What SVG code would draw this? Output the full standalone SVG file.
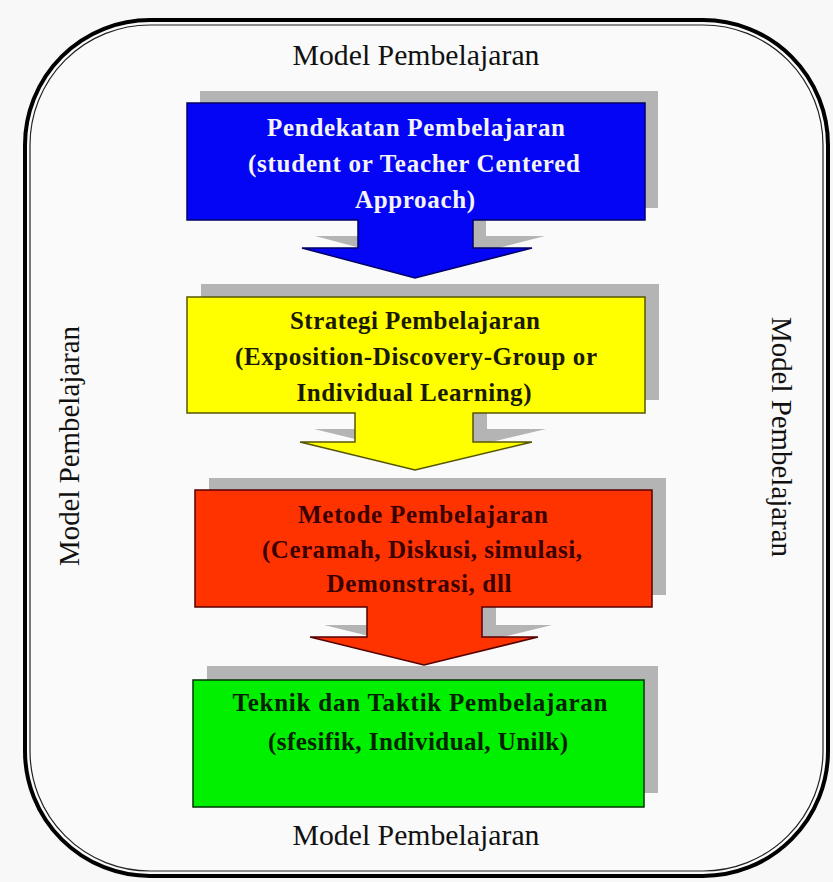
<svg xmlns="http://www.w3.org/2000/svg" width="833" height="882" viewBox="0 0 833 882">
<style>
.frame-label{font-family:"Liberation Serif",serif;font-size:29px;fill:#111;text-anchor:middle}
.bt{font-family:"Liberation Serif",serif;font-weight:bold;font-size:25px;text-anchor:middle}
.shadow{fill:#b4b4b4}
.box{stroke-width:1.5}
</style>
<defs>
<path id="callout-blue" d="M187,103 H645 V220 H473 V248 H532 L415,278 L302,248 H358 V220 H187 Z"/>
<path id="callout-yellow" d="M187,297 H645 V413 H473 V442 H532 L415,470 L300,442 H355 V413 H187 Z"/>
<path id="callout-red" d="M195,490 H652 V607 H482 V637 H538 L424,665 L310,637 H367 V607 H195 Z"/>
</defs>
<rect x="0" y="0" width="833" height="882" fill="#f8f8f8"/>
<g id="frame">
<rect x="25" y="20" width="803" height="856" rx="125" ry="125" fill="#fafafa" stroke="#000" stroke-width="4"/>
<rect x="30" y="25" width="793" height="846" rx="120" ry="120" fill="none" stroke="#222" stroke-width="1.2"/>
<text class="frame-label" x="416" y="65" textLength="247" lengthAdjust="spacingAndGlyphs">Model Pembelajaran</text>
<text class="frame-label" x="416" y="845" textLength="247" lengthAdjust="spacingAndGlyphs">Model Pembelajaran</text>
<text class="frame-label" transform="translate(79,446) rotate(-90)" textLength="240" lengthAdjust="spacingAndGlyphs">Model Pembelajaran</text>
<text class="frame-label" transform="translate(772,437) rotate(90)" textLength="240" lengthAdjust="spacingAndGlyphs">Model Pembelajaran</text>
</g>
<g id="connectors"></g>
<g id="node-pendekatan">
<use href="#callout-blue" class="shadow" transform="translate(13,-12)"/>
<use href="#callout-blue" class="box" fill="#0505f5" stroke="#000066"/>
<text class="bt" fill="#f4f4f4" x="416" y="136" textLength="298" lengthAdjust="spacing">Pendekatan Pembelajaran</text>
<text class="bt" fill="#f4f4f4" x="414" y="172" textLength="332" lengthAdjust="spacing">(student or Teacher Centered</text>
<text class="bt" fill="#f4f4f4" x="415" y="208" textLength="120" lengthAdjust="spacing">Approach)</text>
</g>
<g id="node-strategi">
<use href="#callout-yellow" class="shadow" transform="translate(14,-13)"/>
<use href="#callout-yellow" class="box" fill="#ffff00" stroke="#555500"/>
<text class="bt" fill="#1a1a00" x="415" y="329" textLength="250" lengthAdjust="spacing">Strategi Pembelajaran</text>
<text class="bt" fill="#1a1a00" x="416" y="365" textLength="362" lengthAdjust="spacing">(Exposition-Discovery-Group or</text>
<text class="bt" fill="#1a1a00" x="414" y="401" textLength="235" lengthAdjust="spacing">Individual Learning)</text>
</g>
<g id="node-metode">
<use href="#callout-red" class="shadow" transform="translate(14,-12)"/>
<use href="#callout-red" class="box" fill="#ff3300" stroke="#550000"/>
<text class="bt" fill="#3a0000" x="423" y="523" textLength="250" lengthAdjust="spacing">Metode Pembelajaran</text>
<text class="bt" fill="#3a0000" x="422" y="558" textLength="320" lengthAdjust="spacing">(Ceramah, Diskusi, simulasi,</text>
<text class="bt" fill="#3a0000" x="419" y="592" textLength="185" lengthAdjust="spacing">Demonstrasi, dll</text>
</g>
<g id="node-teknik">
<rect class="shadow" x="207" y="666" width="451" height="127"/>
<rect class="box" x="193" y="680" width="451" height="127" fill="#00f000" stroke="#003300"/>
<text class="bt" fill="#002200" x="420" y="711" textLength="375" lengthAdjust="spacing">Teknik dan Taktik Pembelajaran</text>
<text class="bt" fill="#002200" x="418" y="750" textLength="300" lengthAdjust="spacing">(sfesifik, Individual, Unilk)</text>
</g>
</svg>
